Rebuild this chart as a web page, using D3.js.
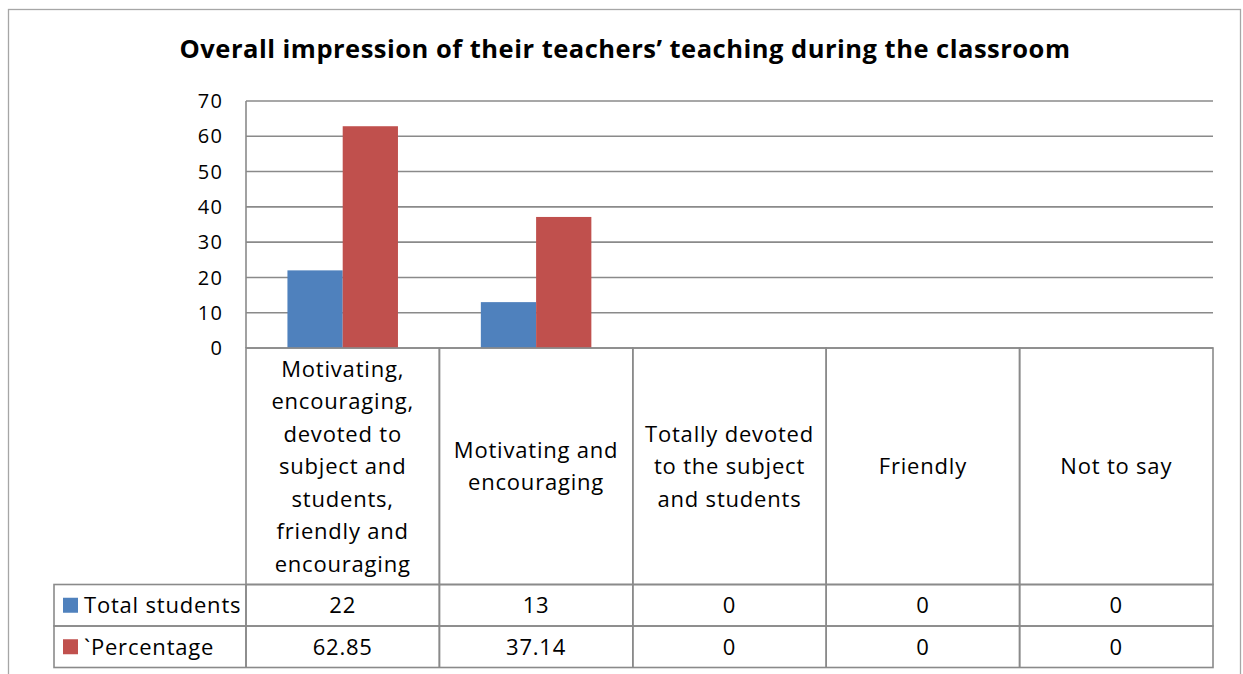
<!DOCTYPE html>
<html>
<head>
    <title>Overall impression chart</title>
    <script src="https://d3js.org/d3.v7.min.js"></script>
    <style>
        body { margin: 0; background: #fff; }
        text { font-family: "Open Sans", Lato, sans-serif; fill: #000; }
        .lbl { font-size: 22px; letter-spacing: 0.8px; }
        .grid line { stroke: #8a8a8a; stroke-width: 1.6; }
        .cell { fill: none; stroke: #8a8a8a; stroke-width: 1.6; }
    </style>
</head>
<body>
    <svg id="chart"></svg>
    <script>
        // data
        var categories = [
            ["Motivating,", "encouraging,", "devoted to", "subject and", "students,", "friendly and", "encouraging"],
            ["Motivating and", "encouraging"],
            ["Totally devoted", "to the subject", "and students"],
            ["Friendly"],
            ["Not to say"]
        ];
        var seriesNames = ["Total students", "`Percentage"];
        var totalStudents = [22, 13, 0, 0, 0];
        var percentage = [62.85, 37.14, 0, 0, 0];
        var percentLabels = ["62.85", "37.14", "0", "0", "0"];
        var yTicks = [0, 10, 20, 30, 40, 50, 60, 70];
        var colors = ["#4f81bd", "#c0504d"];

        var W = 1243, H = 674;
        var plot = {left: 246, right: 1213, top: 101, bottom: 348};
        var rowH = 41.5;
        var tableLeft = 54;
        var catBottom = 584.5;

        var svg = d3.select("#chart").attr("width", W).attr("height", H);

        // outer chart border (runs off the bottom)
        svg.append("rect")
            .attr("x", 8.5).attr("y", 9.5)
            .attr("width", 1232).attr("height", 700)
            .attr("fill", "#fff")
            .attr("stroke", "#a6a6a6")
            .attr("stroke-width", 1.3);

        svg.append("text")
            .attr("x", 625).attr("y", 57.5)
            .attr("text-anchor", "middle")
            .style("font-weight", "bold")
            .style("font-size", "25.5px")
            .style("letter-spacing", "0.5px")
            .text("Overall impression of their teachers\u2019 teaching during the classroom");

        var idx = d3.range(categories.length);
        var x0 = d3.scaleBand().domain(idx).range([plot.left, plot.right]);
        var x1 = d3.scaleBand().domain(d3.range(seriesNames.length))
            .range([0, x0.bandwidth()]).paddingInner(0).paddingOuter(0.75);
        var y = d3.scaleLinear().domain([0, 70]).range([plot.bottom, plot.top]);

        // gridlines
        var grid = svg.append("g").attr("class", "grid");
        grid.selectAll("line").data(yTicks).enter().append("line")
            .attr("x1", plot.left).attr("x2", plot.right)
            .attr("y1", function(d) { return y(d); })
            .attr("y2", function(d) { return y(d); });
        grid.append("line")
            .attr("x1", plot.left).attr("x2", plot.left)
            .attr("y1", plot.top).attr("y2", plot.bottom);

        // y tick labels
        svg.append("g").selectAll("text").data(yTicks).enter().append("text")
            .attr("x", 223.5)
            .attr("y", function(d) { return y(d); })
            .attr("dy", "0.36em")
            .attr("text-anchor", "end")
            .style("font-size", "20px")
            .style("letter-spacing", "1.5px")
            .text(function(d) { return d; });

        // bars
        var seriesData = [totalStudents, percentage];
        seriesData.forEach(function(vals, s) {
            svg.append("g").selectAll("rect").data(vals).enter().append("rect")
                .attr("x", function(d, i) { return x0(i) + x1(s); })
                .attr("width", x1.bandwidth())
                .attr("y", function(d) { return y(d); })
                .attr("height", function(d) { return y(0) - y(d); })
                .attr("fill", colors[s]);
        });

        // data table
        var table = svg.append("g");
        idx.forEach(function(i) {
            table.append("rect").attr("class", "cell")
                .attr("x", x0(i)).attr("y", plot.bottom)
                .attr("width", x0.bandwidth()).attr("height", catBottom - plot.bottom);
        });
        for (var r = 0; r < 2; r++) {
            table.append("rect").attr("class", "cell")
                .attr("x", tableLeft).attr("y", catBottom + r * rowH)
                .attr("width", plot.right - tableLeft).attr("height", rowH);
            idx.forEach(function(i) {
                table.append("line")
                    .attr("x1", x0(i)).attr("x2", x0(i))
                    .attr("y1", catBottom).attr("y2", catBottom + 2 * rowH)
                    .attr("stroke", "#8a8a8a").attr("stroke-width", 1.6);
            });
        }

        // category labels
        var lineH = 32.5;
        idx.forEach(function(i) {
            var lines = categories[i];
            var cy = (plot.bottom + catBottom) / 2;
            var t = table.append("text")
                .attr("class", "lbl")
                .attr("text-anchor", "middle");
            lines.forEach(function(l, k) {
                t.append("tspan")
                    .attr("x", x0(i) + x0.bandwidth() / 2)
                    .attr("y", cy + (k - (lines.length - 1) / 2) * lineH)
                    .attr("dy", "0.36em")
                    .text(l);
            });
        });

        // row headers with legend keys
        seriesNames.forEach(function(name, s) {
            var cy = catBottom + s * rowH + rowH / 2;
            table.append("rect")
                .attr("x", 63).attr("y", cy - 7.5)
                .attr("width", 15).attr("height", 15)
                .attr("fill", colors[s]);
            table.append("text")
                .attr("class", "lbl")
                .attr("x", 84).attr("y", cy).attr("dy", "0.36em")
                .text(name);
        });

        // values
        var valueLabels = [totalStudents.map(String), percentLabels];
        valueLabels.forEach(function(vals, s) {
            var cy = catBottom + s * rowH + rowH / 2;
            table.append("g").selectAll("text").data(vals).enter().append("text")
                .attr("class", "lbl")
                .attr("x", function(d, i) { return x0(i) + x0.bandwidth() / 2; })
                .attr("y", cy).attr("dy", "0.36em")
                .attr("text-anchor", "middle")
                .text(function(d) { return d; });
        });
    </script>
</body>
</html>
